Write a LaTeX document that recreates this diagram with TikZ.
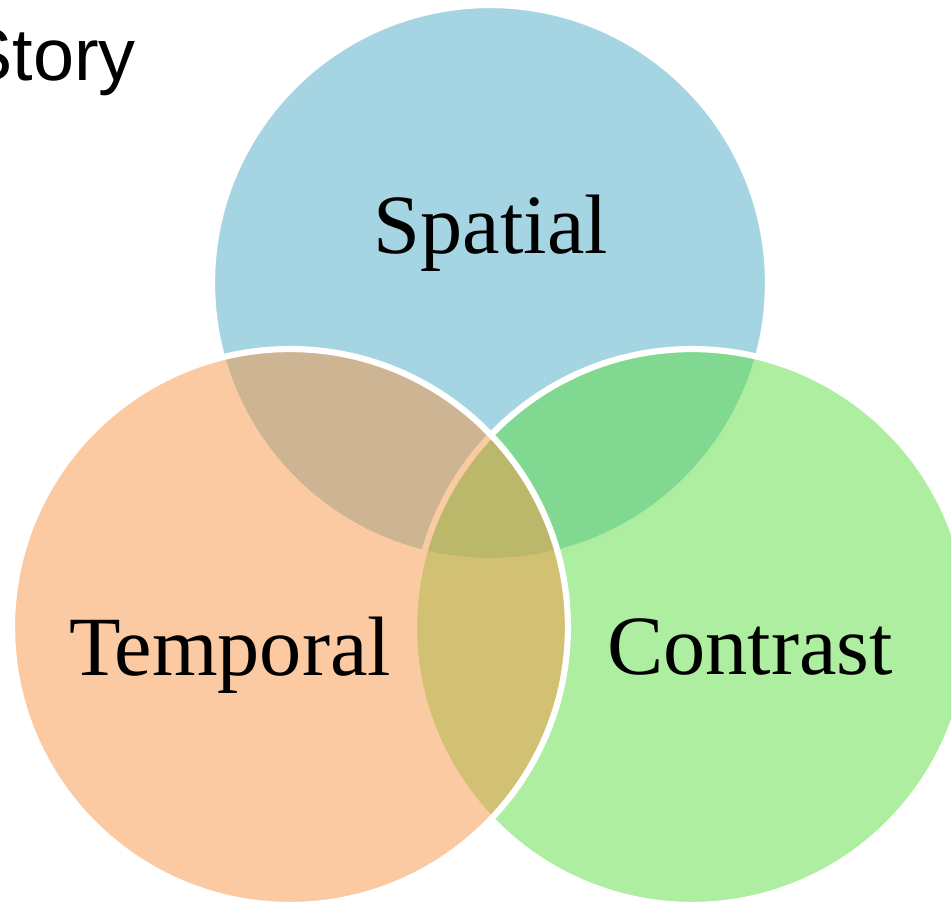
\documentclass[tikz,border=0pt]{standalone}
\usepackage{fontspec}
\setmainfont{Liberation Serif}
\newfontfamily\titlefont{Liberation Sans}
\usepackage{xcolor}
\usepackage{tikz}
\usetikzlibrary{positioning}

\definecolor{spatialblue}{RGB}{75,172,198}
\definecolor{temporalorange}{RGB}{247,150,70}
\definecolor{contrastgreen}{RGB}{93,221,65}

\begin{document}
\begin{tikzpicture}[
  x=0.02cm, y=-0.02cm,
  setdisc/.style = {
    circle, inner sep=0pt, minimum size=11.12cm,
    draw=white, line width=3.5pt, fill opacity=0.5
  },
  lbl/.style = {font=\fontsize{48}{48}\selectfont, anchor=base}
]

\useasboundingbox (0,0) rectangle (951,906);
\clip (0,0) rectangle (951,906);

%% ---- the three sets ----
\node[setdisc, fill=spatialblue]    (sp) at (490,283) {};
\node[setdisc, fill=contrastgreen]  (co) at (692,627) {};
\node[setdisc, fill=temporalorange] (te) at (290,627) {};

%% ---- set names ----
\node[lbl] (splbl) at (491,253) {Spatial};
\node[lbl] (telbl) at (230,675) {Temporal};
\node[lbl] (colbl) at (750,674) {Contrast};

%% ---- heading, runs off the left edge ----
\node[font=\titlefont\fontsize{42}{42}\selectfont, anchor=base east]
  (story) at (142,80) {Story};

\end{tikzpicture}
\end{document}
